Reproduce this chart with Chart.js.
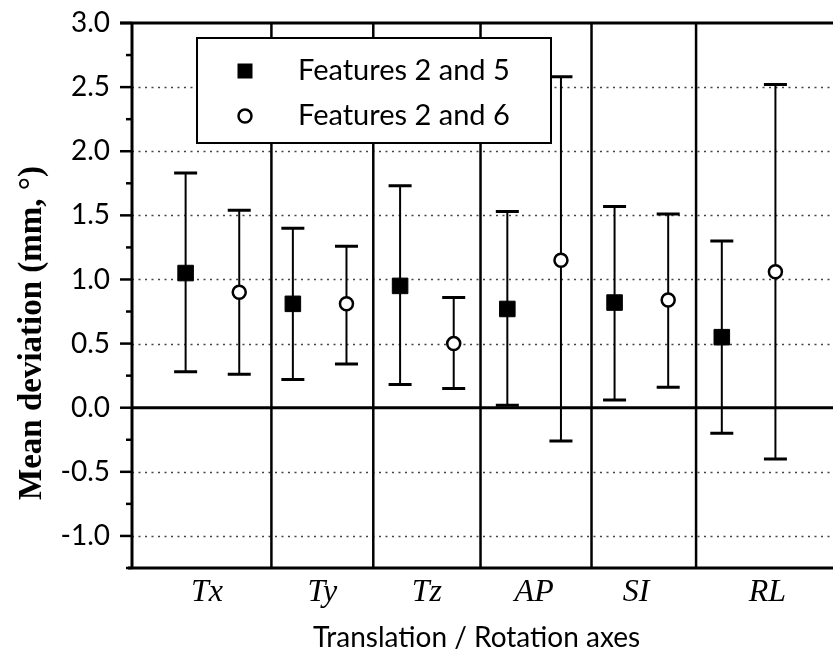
<!DOCTYPE html>
<html>
<head>
<meta charset="utf-8">
<script src="https://cdn.jsdelivr.net/npm/chart.js@4.4.1/dist/chart.umd.min.js"></script>
<style>
  html, body { margin: 0; padding: 0; background: #fff; }
  #wrap { width: 833px; height: 655px; }
</style>
</head>
<body>
<div id="wrap"><canvas id="deviationChart"></canvas></div>
<script>
const axes = ['Tx', 'Ty', 'Tz', 'AP', 'SI', 'RL'];
// where each axis name sits and where the groups are split, in x units
const axisLabelAt = [1.4, 3.55, 5.5, 7.5, 9.4, 11.85];
const groupEdges = [2.6, 4.5, 6.5, 8.57, 10.52];

// Features 2 and 5
const mean25 = [1.05, 0.81, 0.95, 0.77, 0.82, 0.55];
const low25  = [0.28, 0.22, 0.18, 0.02, 0.06, -0.20];
const high25 = [1.83, 1.40, 1.73, 1.53, 1.57, 1.30];

// Features 2 and 6
const mean26 = [0.90, 0.81, 0.50, 1.15, 0.84, 1.06];
const low26  = [0.26, 0.34, 0.15, -0.26, 0.16, -0.40];
const high26 = [1.54, 1.26, 0.86, 2.58, 1.51, 2.52];

const yTicks = [-1.0, -0.5, 0.0, 0.5, 1.0, 1.5, 2.0, 2.5, 3.0];
const yMin = -1.25, yMax = 3.0;

const numFont = 'Lato, "DejaVu Sans", sans-serif';
const serifFont = '"Liberation Serif", "Times New Roman", serif';

const set25 = {
  label: 'Features 2 and 5',
  data: mean25.map((v, i) => ({ x: 2 * i + 1, y: v, lo: low25[i], hi: high25[i] })),
  pointStyle: 'rect',
  pointRadius: 11,
  backgroundColor: '#000',
  borderColor: '#000',
  borderWidth: 1
};
const set26 = {
  label: 'Features 2 and 6',
  data: mean26.map((v, i) => ({ x: 2 * i + 2, y: v, lo: low26[i], hi: high26[i] })),
  pointStyle: 'circle',
  pointRadius: 6.5,
  backgroundColor: '#fff',
  borderColor: '#000',
  borderWidth: 2.5
};

// frame, dotted grid, group separators and error bars under the markers
const framePlugin = {
  id: 'frame',
  beforeDatasetsDraw(chart) {
    const { ctx, chartArea: a, scales: { x, y } } = chart;
    const right = chart.width;
    ctx.save();

    // dotted grid
    ctx.lineWidth = 1.3;
    ctx.strokeStyle = '#444';
    ctx.setLineDash([2, 4.5]);
    yTicks.forEach(v => {
      if (v === 0 || v === yMax) return;
      const py = Math.round(y.getPixelForValue(v)) + 0.5;
      ctx.beginPath();
      ctx.moveTo(a.left, py);
      ctx.lineTo(right, py);
      ctx.stroke();
    });
    ctx.setLineDash([]);
    ctx.strokeStyle = '#000';

    // separators between the axis groups
    ctx.lineWidth = 2.5;
    groupEdges.forEach(e => {
      const px = x.getPixelForValue(e);
      ctx.beginPath();
      ctx.moveTo(px, a.top);
      ctx.lineTo(px, a.bottom);
      ctx.stroke();
    });

    // zero line, top and bottom borders
    ctx.lineWidth = 3;
    [[0, a.left], [yMax, a.left - 12], [yMin, a.left - 4]].forEach(([v, x0]) => {
      const py = y.getPixelForValue(v);
      ctx.beginPath();
      ctx.moveTo(x0, py);
      ctx.lineTo(right, py);
      ctx.stroke();
    });

    // left axis with major and minor ticks
    ctx.beginPath();
    ctx.moveTo(a.left, a.top);
    ctx.lineTo(a.left, a.bottom);
    ctx.stroke();
    ctx.lineWidth = 2.5;
    for (let v = yMin; v <= yMax + 1e-9; v += 0.25) {
      const major = Math.abs(v * 2 - Math.round(v * 2)) < 1e-6;
      const py = y.getPixelForValue(v);
      ctx.beginPath();
      ctx.moveTo(a.left - (major ? 12 : 6), py);
      ctx.lineTo(a.left, py);
      ctx.stroke();
    }

    // error bars
    chart.data.datasets.forEach(ds => {
      ds.data.forEach(p => {
        const px = x.getPixelForValue(p.x);
        const pLo = y.getPixelForValue(p.lo);
        const pHi = y.getPixelForValue(p.hi);
        ctx.lineWidth = 2;
        ctx.beginPath();
        ctx.moveTo(px, pLo);
        ctx.lineTo(px, pHi);
        ctx.stroke();
        ctx.lineWidth = 3;
        ctx.beginPath();
        ctx.moveTo(px - 11.5, pLo); ctx.lineTo(px + 11.5, pLo);
        ctx.moveTo(px - 11.5, pHi); ctx.lineTo(px + 11.5, pHi);
        ctx.stroke();
      });
    });
    ctx.restore();
  },
  afterDraw(chart) {
    const { ctx } = chart;
    ctx.save();

    // y axis title
    ctx.translate(32, 333);
    ctx.rotate(-Math.PI / 2);
    ctx.font = 'bold 33px ' + serifFont;
    ctx.fillStyle = '#000';
    ctx.textAlign = 'center';
    ctx.textBaseline = 'middle';
    ctx.fillText('Mean deviation (mm, °)', 0, 0);
    ctx.setTransform(1, 0, 0, 1, 0, 0);

    // legend box
    const bx = 197, by = 38, bw = 354, bh = 105;
    ctx.fillStyle = '#fff';
    ctx.fillRect(bx, by, bw, bh);
    ctx.lineWidth = 2;
    ctx.strokeStyle = '#000';
    ctx.strokeRect(bx, by, bw, bh);
    ctx.font = '29px ' + numFont;
    ctx.textAlign = 'left';
    ctx.textBaseline = 'middle';
    chart.data.datasets.forEach((ds, i) => {
      const ry = 71 + i * 45;
      ctx.fillStyle = ds.backgroundColor;
      ctx.strokeStyle = ds.borderColor;
      ctx.lineWidth = ds.borderWidth;
      ctx.beginPath();
      if (ds.pointStyle === 'rect') {
        ctx.fillRect(245 - 7.5, ry - 7.5, 15, 15);
      } else {
        ctx.arc(245, ry, 6.5, 0, Math.PI * 2);
        ctx.fill();
        ctx.stroke();
      }
      ctx.fillStyle = '#000';
      ctx.fillText(ds.label, 298, ry);
    });
    ctx.restore();
  }
};

new Chart(document.getElementById('deviationChart'), {
  type: 'scatter',
  data: { datasets: [set25, set26] },
  plugins: [framePlugin],
  options: {
    responsive: true,
    maintainAspectRatio: false,
    animation: false,
    layout: { padding: { top: 23, right: 0, left: 0, bottom: 0 } },
    plugins: {
      legend: { display: false },
      tooltip: { enabled: false }
    },
    scales: {
      x: {
        type: 'linear',
        min: 0,
        max: 12.85,
        afterBuildTicks: scale => {
          scale.ticks = axisLabelAt.map(v => ({ value: v }));
        },
        afterFit: scale => {
          scale.height = 87;
          scale.paddingLeft = 0;
          scale.paddingRight = 0;
        },
        grid: { display: false },
        border: { display: false },
        ticks: {
          autoSkip: false,
          maxRotation: 0,
          padding: -3,
          color: '#000',
          font: { family: serifFont, style: 'italic', size: 32 },
          callback: (v, i) => axes[i]
        },
        title: {
          display: true,
          text: 'Translation / Rotation axes',
          color: '#000',
          font: { family: numFont, size: 28 },
          padding: { top: 6, bottom: 0 }
        }
      },
      y: {
        min: yMin,
        max: yMax,
        afterBuildTicks: scale => {
          scale.ticks = yTicks.map(v => ({ value: v }));
        },
        afterFit: scale => {
          scale.width = 132;
          scale.paddingTop = 0;
          scale.paddingBottom = 0;
        },
        grid: { display: false },
        border: { display: false },
        ticks: {
          padding: 14,
          color: '#000',
          font: { family: numFont, size: 28 },
          callback: v => v.toFixed(1)
        }
      }
    }
  }
});
</script>
</body>
</html>
